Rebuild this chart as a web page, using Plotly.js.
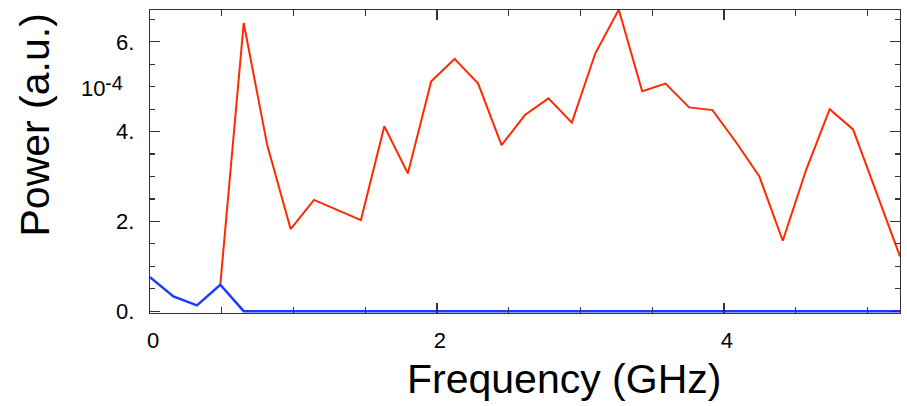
<!DOCTYPE html>
<html>
<head>
<meta charset="utf-8">
<script src="https://cdn.plot.ly/plotly-3.0.1.min.js"></script>
<style>html,body{margin:0;padding:0;background:#fff;}#chart{width:907px;height:406px;}</style>
</head>
<body>
<div id="chart"></div>
<script>
// Frequency grid (GHz)
var freqs = [0, 0.163, 0.327, 0.49, 0.653, 0.817, 0.98, 1.143, 1.307, 1.47, 1.633,
  1.797, 1.96, 2.123, 2.287, 2.45, 2.613, 2.777, 2.94, 3.103, 3.267, 3.43, 3.593,
  3.757, 3.92, 4.083, 4.247, 4.41, 4.573, 4.737, 4.9, 5.063, 5.227];
// Red series (units of 1e-4), starting at the 4th frequency
var redFreqs = [0.49, 0.653, 0.817, 0.98, 1.143, 1.307, 1.47, 1.633,
  1.797, 1.96, 2.123, 2.287, 2.45, 2.613, 2.777, 2.94, 3.103, 3.267, 3.43, 3.593,
  3.757, 3.92, 4.083, 4.247, 4.41, 4.573, 4.737, 4.9, 5.063, 5.227];
var redPower = [0.59, 6.42, 3.70, 1.83, 2.48, 2.26, 2.03, 4.12, 3.07, 5.12, 5.62, 5.07,
  3.70, 4.37, 4.74, 4.20, 5.74, 6.72, 4.90, 5.07, 4.54, 4.48, 3.77, 3.00, 1.57, 3.15,
  4.50, 4.05, 2.62, 1.22];
// Blue series (units of 1e-4)
var bluePower = [0.76, 0.33, 0.13, 0.59, 0, 0, 0, 0, 0, 0, 0, 0, 0, 0, 0, 0, 0,
  0, 0, 0, 0, 0, 0, 0, 0, 0, 0, 0, 0, 0, 0, 0, 0];
// Tick labels
var xTickVals = [0, 2, 4];
var xTickText = ["0", "2", "4"];
var yTickVals = [0, 2, 4, 6];
var yTickText = ["0.", "2.", "4.", "6."];
var yExponentBase = "10";
var yExponentPower = "-4";
var xTitle = "Frequency (GHz)";
var yTitle = "Power (a.u.)";

var font = "Liberation Sans, Arial, Helvetica, sans-serif";

var traces = [
  {x: redFreqs, y: redPower, type: "scatter", mode: "lines",
   line: {color: "#ff2a00", width: 2}, hoverinfo: "skip"},
  {x: freqs, y: bluePower, type: "scatter", mode: "lines",
   line: {color: "#1a3cff", width: 2.5}, hoverinfo: "skip"}
];

var axisCommon = {
  showgrid: false, zeroline: false, showline: true, linecolor: "#333", linewidth: 1.2,
  mirror: "ticks", ticks: "inside", ticklen: 10, tickwidth: 1.2, tickcolor: "#333",
  tickfont: {family: font, size: 22, color: "#000"}
};

var layout = {
  width: 907, height: 406,
  margin: {l: 150, r: 7, t: 10, b: 93},
  paper_bgcolor: "#fff", plot_bgcolor: "#fff",
  showlegend: false,
  xaxis: Object.assign({}, axisCommon, {
    range: [0, 5.227], tickmode: "array", tickvals: xTickVals, ticktext: xTickText,
    ticklabelstandoff: 7, ticklabelshift: 3,
    minor: {ticks: "inside", dtick: 0.5, tick0: 0, ticklen: 6, tickwidth: 1.2, tickcolor: "#333"}
  }),
  yaxis: Object.assign({}, axisCommon, {
    range: [-0.04, 6.71], tickmode: "array", tickvals: yTickVals, ticktext: yTickText,
    ticklabelstandoff: 10,
    minor: {ticks: "inside", dtick: 0.5, tick0: 0, ticklen: 5, tickwidth: 1.2, tickcolor: "#333"}
  }),
  annotations: [
    {xref: "paper", yref: "y", x: 0, y: 5, xanchor: "right", yanchor: "middle",
     xshift: -43, yshift: -2, text: yExponentBase, showarrow: false,
     font: {family: font, size: 22, color: "#000"}},
    {xref: "paper", yref: "y", x: 0, y: 5, xanchor: "left", yanchor: "middle",
     xshift: -47, yshift: 4, text: yExponentPower, showarrow: false,
     font: {family: font, size: 20, color: "#000"}},
    {xref: "paper", yref: "paper", x: (34 - 150) / 750, y: (313 - 125.5) / 303,
     xanchor: "center", yanchor: "middle", textangle: -90, text: yTitle, showarrow: false,
     font: {family: font, size: 41, color: "#000"}},
    {xref: "paper", yref: "paper", x: (564 - 150) / 750, y: (313 - 379) / 303,
     xanchor: "center", yanchor: "middle", text: xTitle, showarrow: false,
     font: {family: font, size: 41, color: "#000"}}
  ]
};

Plotly.newPlot("chart", traces, layout, {staticPlot: true, displayModeBar: false});
</script>
</body>
</html>
